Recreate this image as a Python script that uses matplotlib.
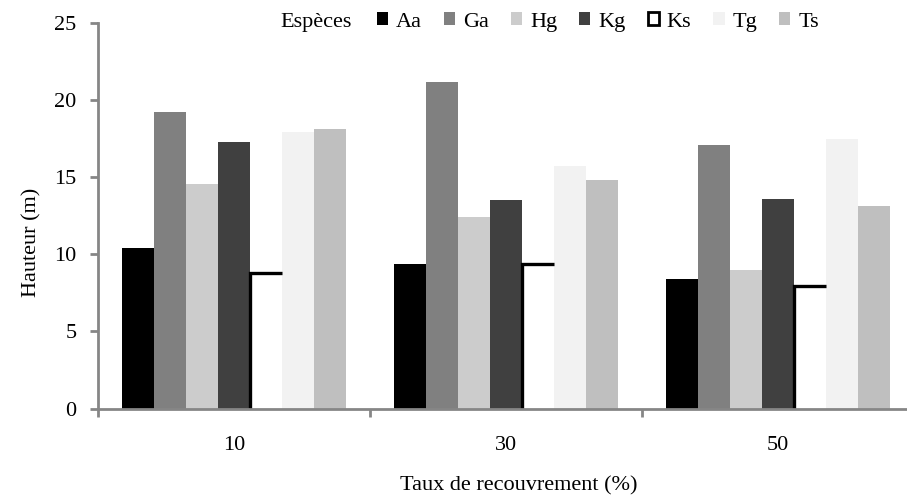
import matplotlib
matplotlib.use("Agg")
import matplotlib.pyplot as plt
from matplotlib.patches import Patch
import numpy as np

plt.rcParams['font.family'] = ['Liberation Serif', 'DejaVu Serif']

groups = ["10", "30", "50"]
species = ["Aa", "Ga", "Hg", "Kg", "Ks", "Tg", "Ts"]
Aa = [10.4, 9.35, 8.4]
Ga = [19.2, 21.2, 17.1]
Hg = [14.55, 12.4, 9.0]
Kg = [17.3, 13.55, 13.6]
Ks = [8.8, 9.35, 7.95]
Tg = [17.95, 15.7, 17.5]
Ts = [18.1, 14.8, 13.1]
values = [Aa, Ga, Hg, Kg, Ks, Tg, Ts]
colors = ["#000000", "#808080", "#cccccc", "#404040", "#ffffff", "#f2f2f2", "#bfbfbf"]
yticks = [0, 5, 10, 15, 20, 25]
gray = "#868686"
FS = 16

fig = plt.figure(figsize=(9.07, 5.0), dpi=100)
ax = fig.add_axes([98/907, 91.5/500, 816/907, 385.5/500])

x = np.arange(len(groups))
w = 0.1175
n = len(species)
for i, (sp, vals, c) in enumerate(zip(species, values, colors)):
    pos = x + (i - (n - 1) / 2) * w
    bars = ax.bar(pos, vals, width=w, color=c, linewidth=0, zorder=2)
    if sp == "Ks":
        for b in bars:
            x0 = b.get_x()
            x1 = x0 + b.get_width()
            h = b.get_height()
            ax.plot([x0, x0, x1], [0, h, h], color="black", linewidth=2.4,
                    solid_joinstyle="miter", solid_capstyle="butt", zorder=3)

ax.set_xlim(-0.5, 2.5)
ax.set_ylim(0, 25)
ax.set_yticks(yticks)
ax.set_xticks(x)
ax.set_xticklabels(groups)
ax.set_xticks(np.arange(-0.5, 2.6, 1.0), minor=True)

for s in ["top", "right"]:
    ax.spines[s].set_visible(False)
for s in ["left", "bottom"]:
    ax.spines[s].set_color(gray)
    ax.spines[s].set_linewidth(2)
    ax.spines[s].set_zorder(4)

ax.tick_params(axis="y", which="major", length=5.5, width=2, color=gray,
               labelsize=FS, pad=10)
ax.tick_params(axis="x", which="major", length=0, labelsize=FS, pad=20)
ax.tick_params(axis="x", which="minor", length=5.5, width=2, color=gray)

ax.set_ylabel("Hauteur (m)", fontsize=FS)
ax.yaxis.set_label_coords((41 - 98) / 816, (408.5 - 242) / 385.5)
ax.set_xlabel("Taux de recouvrement (%)", fontsize=FS)
ax.xaxis.set_label_coords((519 - 98) / 816, (408.5 - 476) / 385.5)

handles = []
for sp, c in zip(species, colors):
    if sp == "Ks":
        handles.append(Patch(facecolor="white", edgecolor="black", linewidth=2))
    else:
        handles.append(Patch(facecolor=c, edgecolor="none"))

fig.text(280/907, 1 - 22/500, "Espèces", fontsize=FS, va="center", ha="left")
fig.legend(handles, species, loc="center left", bbox_to_anchor=(377/907, 1 - 22/500),
           ncol=7, frameon=False, fontsize=FS, handlelength=0.5, handleheight=0.5,
           handletextpad=0.35, columnspacing=1.0, borderpad=0, borderaxespad=0)

fig.savefig("out.png", dpi=100)
